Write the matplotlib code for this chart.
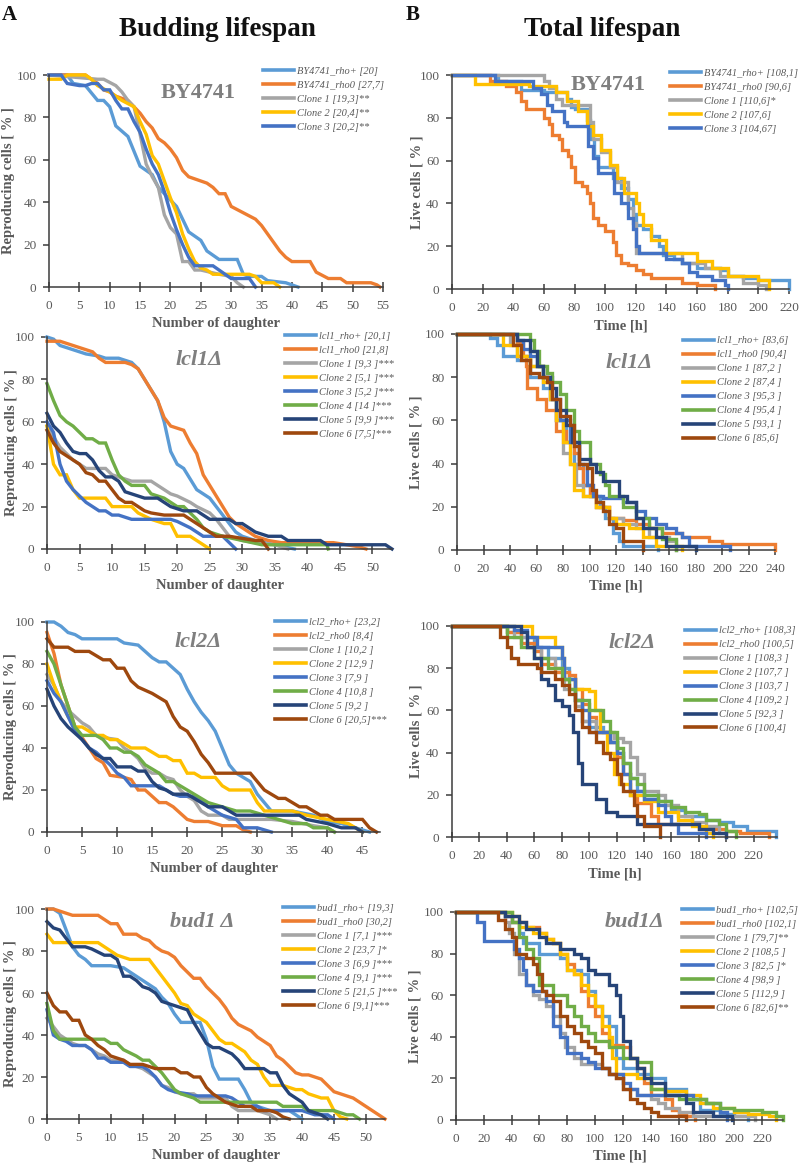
import matplotlib
matplotlib.use('Agg')
import matplotlib.pyplot as plt

W, H = 800, 1165
plt.rcParams['font.family'] = ['Liberation Serif', 'DejaVu Serif']

COLORS = ['#5B9BD5', '#ED7D31', '#A5A5A5', '#FFC000', '#4472C4', '#70AD47', '#264478', '#9E480E']

# ---------------- A1: BY4741 budding lifespan ----------------
a1_labels = ['BY4741_rho+ [20]', 'BY4741_rho0 [27,7]', 'Clone 1 [19,3]**', 'Clone 2 [20,4]**', 'Clone 3 [20,2]**']
a1_rho_plus = [(0,100),(3,100),(4,96),(6,95),(8,88),(9,88),(10,85),(11,76),(13,71),(14,64),(15,57),(17,53),(18,47),(20,41),(21,38),(22,32),(23,26),(25,22),(26,17),(28,13),(31,13),(32,6),(33,5),(35,5),(36,3),(39,2),(40,1),(41,0)]
a1_rho0 = [(0,100),(6,100),(7,98),(8,96),(9,93),(10,92),(11,90),(13,88),(14,85),(15,82),(16,78),(17,75),(18,70),(19,68),(20,65),(21,61),(22,55),(23,52),(25,50),(26,49),(27,47),(28,44),(29,44),(30,38),(32,35),(34,32),(35,29),(36,25),(37,21),(38,17),(39,14),(40,12),(43,12),(44,7),(46,4),(48,4),(49,2),(53,2),(54,1),(54.5,0)]
a1_c1 = [(0,100),(8,98),(9,98),(11,95),(12,92),(13,88),(14,85),(15,72),(16,58),(17,52),(18,47),(19,34),(20,28),(21,25),(22,12),(23,12),(24,8),(25,8),(28,6),(30,5),(31,2),(32,0)]
a1_c2 = [(0,98),(2,98),(3,100),(6,100),(7,98),(8,95),(10,92),(12,88),(14,85),(15,78),(16,72),(17,62),(18,58),(19,50),(20,42),(21,35),(22,25),(23,18),(24,12),(25,9),(26,8),(27,6),(33,6),(34,5),(35,2),(37,2),(38,0)]
a1_c3 = [(0,100),(2,100),(3,96),(5,95),(6,95),(7,96),(8,96),(9,93),(10,93),(11,88),(12,84),(13,84),(14,78),(15,73),(16,65),(17,58),(18,53),(19,45),(20,35),(21,27),(22,20),(23,14),(24,10),(27,10),(28,8),(29,6),(30,4),(33,4),(34,0)]

# ---------------- B1: BY4741 total lifespan ----------------
b1_labels = ['BY4741_rho+ [108,1]', 'BY4741_rho0 [90,6]', 'Clone 1 [110,6]*', 'Clone 2 [107,6]', 'Clone 3 [104,67]']
b1_rho_plus = [(0,100),(28,100),(30,97),(45,93),(60,92),(70,92),(75,89),(78,85),(80,84),(88,79),(90,70),(93,62),(95,57),(100,57),(105,52),(110,47),(115,42),(118,35),(120,30),(125,28),(130,25),(135,20),(138,16),(145,14),(150,12),(160,10),(175,9),(180,6),(190,5),(200,4),(215,4),(220,0)]
b1_rho0 = [(0,100),(20,100),(25,97),(35,95),(42,92),(45,88),(48,84),(55,84),(60,80),(63,77),(65,72),(70,70),(72,65),(76,62),(78,57),(80,50),(85,48),(88,45),(90,40),(92,33),(95,30),(100,27),(105,22),(107,16),(110,12),(115,11),(120,9),(125,7),(130,5),(140,5),(150,3),(160,2),(172,0)]
b1_c1 = [(0,100),(57,100),(60,97),(63,94),(68,89),(72,86),(88,86),(90,78),(92,70),(97,64),(103,57),(108,50),(115,38),(118,31),(120,17),(140,17),(150,12),(165,10),(175,6),(190,3),(200,2),(205,0)]
b1_c2 = [(0,100),(10,100),(15,96),(38,96),(50,95),(68,92),(75,88),(82,83),(88,76),(92,72),(97,65),(103,58),(108,52),(112,45),(118,45),(120,40),(122,35),(125,30),(130,23),(138,23),(140,17),(150,17),(160,13),(170,10),(180,6),(195,6),(200,4),(207,0)]
b1_c3 = [(0,100),(25,100),(28,97),(40,97),(53,94),(58,91),(62,86),(65,83),(70,83),(73,78),(75,76),(85,76),(89,67),(92,61),(95,54),(103,54),(106,45),(110,40),(115,33),(118,28),(120,20),(122,17),(135,17),(140,14),(150,12),(155,8),(160,6),(170,4),(178,2),(180,0)]

# ---------------- A2: lcl1 budding lifespan ----------------
a2_labels = ['lcl1_rho+ [20,1]', 'lcl1_rho0 [21,8]', 'Clone 1 [9,3 ]***', 'Clone 2 [5,1 ]***', 'Clone 3 [5,2 ]***', 'Clone 4 [14 ]***', 'Clone 5 [9,9 ]***', 'Clone 6 [7,5]***']
a2_rho_plus = [(0,100),(1,99),(2,96),(3,95),(5,93),(6,92),(8,91),(9,90),(11,90),(12,89),(13,88),(14,85),(15,80),(16,75),(17,70),(18,60),(19,46),(20,40),(21,38),(22,33),(23,28),(25,24),(26,20),(27,16),(28,12),(29,8),(30,6),(32,4),(35,2),(38,0)]
a2_rho0 = [(0,98),(2,98),(3,97),(5,95),(7,93),(8,90),(9,88),(12,88),(13,87),(14,85),(15,80),(16,75),(17,70),(18,62),(19,58),(20,57),(21,56),(22,50),(23,45),(24,35),(25,30),(26,25),(27,20),(28,15),(29,12),(30,10),(32,6),(34,4),(36,3),(44,3),(46,2),(48,1),(49,0)]
a2_c1 = [(0,58),(2,48),(4,42),(5,40),(6,38),(9,38),(10,35),(12,33),(13,32),(16,32),(17,30),(18,28),(19,26),(20,25),(22,22),(23,20),(25,17),(26,14),(27,10),(28,6),(30,4),(32,3),(35,2),(37,0)]
a2_c2 = [(0,58),(1,40),(2,35),(3,35),(4,28),(5,24),(9,24),(10,20),(13,20),(14,17),(16,14),(18,12),(19,12),(20,6),(22,6),(23,4),(24,2),(25,0)]
a2_c3 = [(0,60),(1,55),(2,40),(3,32),(4,28),(5,25),(6,22),(7,20),(8,18),(9,18),(10,16),(11,16),(13,14),(19,14),(20,13),(22,10),(23,8),(24,6),(27,6),(28,3),(29,0)]
a2_c4 = [(0,78),(1,70),(2,63),(3,60),(4,58),(5,55),(6,52),(7,52),(8,50),(9,50),(10,42),(11,35),(12,32),(13,30),(15,30),(16,26),(18,24),(19,22),(20,20),(21,20),(23,14),(24,10),(25,8),(27,6),(30,4),(33,2),(43,2),(43.2,0)]
a2_c5 = [(0,64),(1,58),(2,55),(3,50),(4,46),(5,45),(6,45),(7,42),(8,37),(9,34),(10,34),(11,32),(12,27),(13,26),(15,24),(17,24),(18,22),(19,20),(21,18),(23,18),(24,16),(25,14),(28,14),(29,12),(30,12),(31,10),(32,8),(34,6),(36,6),(37,4),(42,4),(43,2),(52,2),(53,0)]
a2_c6 = [(0,56),(1,50),(2,46),(3,44),(4,42),(5,40),(6,36),(7,35),(8,32),(9,32),(10,28),(11,24),(12,22),(13,22),(14,20),(15,18),(16,17),(18,16),(21,16),(22,14),(23,12),(24,10),(25,8),(26,6),(28,6),(30,5),(32,4),(33,4),(34,0)]

# ---------------- B2: lcl1 total lifespan ----------------
b2_labels = ['lcl1_rho+ [83,6]', 'lcl1_rho0 [90,4]', 'Clone 1 [87,2 ]', 'Clone 2 [87,4 ]', 'Clone 3 [95,3 ]', 'Clone 4 [95,4 ]', 'Clone 5 [93,1 ]', 'Clone 6 [85,6]']
b2_rho_plus = [(0,100),(20,100),(25,98),(30,95),(35,90),(45,88),(55,80),(65,75),(70,70),(75,60),(82,50),(88,40),(95,30),(100,25),(108,20),(112,15),(118,8),(122,4),(125,2),(150,2),(152,0)]
b2_rho0 = [(0,100),(40,100),(45,96),(50,90),(52,85),(53,75),(57,75),(60,70),(67,65),(75,55),(82,50),(88,45),(92,38),(95,30),(100,25),(105,20),(115,15),(125,14),(135,12),(145,10),(155,8),(170,6),(185,6),(190,4),(200,3),(238,3),(240,0)]
b2_c1 = [(0,100),(30,100),(40,95),(45,90),(55,85),(65,80),(70,70),(75,60),(80,45),(85,40),(90,30),(95,25),(105,20),(115,15),(125,12),(135,10),(145,6),(160,4),(165,0)]
b2_c2 = [(0,100),(30,100),(35,95),(45,90),(55,85),(65,78),(70,70),(75,60),(80,50),(85,40),(88,28),(95,25),(105,20),(115,15),(120,12),(130,10),(140,6),(150,2),(170,0)]
b2_c3 = [(0,100),(40,100),(45,97),(50,93),(55,90),(60,85),(65,80),(72,70),(78,60),(85,50),(92,40),(98,30),(103,25),(110,24),(125,22),(135,18),(142,15),(150,12),(158,10),(165,8),(170,6),(175,2),(205,2),(206,0)]
b2_c4 = [(0,100),(52,100),(55,97),(58,92),(62,85),(68,82),(72,78),(78,72),(82,65),(88,55),(92,50),(100,40),(108,35),(112,30),(115,25),(125,20),(135,15),(145,10),(155,5),(165,0)]
b2_c5 = [(0,100),(40,100),(45,97),(55,92),(60,85),(65,80),(70,75),(75,65),(82,58),(87,50),(92,42),(100,40),(105,36),(110,32),(118,32),(122,25),(128,22),(135,15),(140,10),(150,6),(158,2),(178,2),(180,0)]
b2_c6 = [(0,100),(38,100),(42,95),(48,88),(55,82),(62,80),(68,78),(72,70),(78,62),(85,58),(88,48),(92,40),(98,38),(102,28),(105,22),(110,18),(115,12),(120,10),(125,4),(138,4),(140,0)]

# ---------------- A3: lcl2 budding lifespan ----------------
a3_labels = ['lcl2_rho+ [23,2]', 'lcl2_rho0 [8,4]', 'Clone 1 [10,2 ]', 'Clone 2 [12,9 ]', 'Clone 3 [7,9 ]', 'Clone 4 [10,8 ]', 'Clone 5 [9,2 ]', 'Clone 6 [20,5]***']
a3_rho_plus = [(0,100),(1,100),(2,98),(3,95),(4,94),(5,92),(10,92),(11,90),(13,89),(14,86),(15,83),(16,81),(17,81),(18,78),(19,75),(20,68),(21,62),(22,57),(23,53),(24,48),(25,40),(26,32),(27,28),(29,24),(30,18),(31,14),(32,10),(35,10),(38,8),(40,5),(42,4),(44,2),(46,0)]
a3_rho0 = [(0,95),(1,85),(2,70),(3,60),(4,50),(5,45),(6,40),(7,35),(8,33),(9,27),(11,26),(12,25),(13,20),(14,20),(15,17),(16,14),(17,14),(18,12),(19,9),(20,6),(21,5),(23,5),(24,4),(25,3),(27,3),(28,1),(29,0)]
a3_c1 = [(0,75),(1,70),(2,62),(3,58),(4,55),(5,52),(6,50),(7,46),(8,45),(10,44),(11,40),(12,38),(13,35),(14,30),(15,28),(16,28),(17,26),(18,25),(19,20),(20,17),(21,15),(22,10),(23,8),(25,8),(26,6),(32,6),(35,5),(38,3),(40,2),(41,0)]
a3_c2 = [(0,80),(1,70),(2,62),(3,55),(4,50),(5,50),(6,48),(7,46),(8,46),(9,44),(10,44),(11,42),(12,40),(14,40),(15,38),(16,36),(17,36),(18,34),(19,34),(20,28),(21,28),(22,26),(24,26),(25,22),(26,20),(29,20),(30,14),(31,10),(35,10),(37,8),(40,6),(43,4),(44,2),(45,0)]
a3_c3 = [(0,72),(1,66),(2,62),(3,55),(4,48),(5,44),(6,40),(7,38),(8,35),(9,32),(10,28),(11,26),(12,22),(16,22),(17,20),(18,18),(19,17),(21,17),(22,15),(23,12),(24,10),(25,8),(27,6),(28,2),(30,2),(32,0)]
a3_c4 = [(0,86),(1,80),(2,70),(3,60),(4,50),(5,46),(7,46),(8,44),(9,40),(10,40),(11,38),(12,38),(13,36),(14,32),(15,30),(16,28),(17,24),(18,24),(19,22),(20,20),(21,18),(22,16),(23,14),(24,13),(25,12),(27,10),(29,10),(31,8),(33,6),(35,4),(37,4),(38,2),(40,2),(41,0)]
a3_c5 = [(0,68),(1,60),(2,54),(3,50),(4,47),(5,44),(6,40),(7,37),(8,35),(9,35),(10,31),(12,31),(13,29),(14,29),(15,24),(16,21),(17,20),(18,18),(20,18),(21,16),(22,14),(23,12),(25,12),(26,10),(27,8),(36,8),(37,6),(40,4),(42,2),(44,2),(45,0)]
a3_c6 = [(0,92),(1,88),(3,88),(4,86),(6,86),(7,84),(8,82),(9,82),(10,78),(11,78),(12,72),(13,69),(15,66),(17,62),(18,55),(19,50),(20,48),(21,43),(22,37),(23,33),(24,28),(29,28),(30,24),(31,20),(32,18),(33,16),(34,16),(35,14),(36,12),(37,12),(38,10),(39,8),(40,8),(41,6),(45,6),(46,2),(47,0)]

# ---------------- B3: lcl2 total lifespan ----------------
b3_labels = ['lcl2_rho+ [108,3]', 'lcl2_rho0 [100,5]', 'Clone 1 [108,3 ]', 'Clone 2 [107,7 ]', 'Clone 3 [103,7 ]', 'Clone 4 [109,2 ]', 'Clone 5 [92,3 ]', 'Clone 6 [100,4]']
b3_rho_plus = [(0,100),(30,100),(40,97),(50,95),(60,90),(70,85),(80,80),(85,75),(90,65),(95,55),(100,52),(110,50),(115,45),(120,40),(125,35),(130,28),(135,22),(140,20),(150,17),(160,13),(170,10),(185,8),(195,7),(205,5),(215,3),(232,3),(236,0)]
b3_rho0 = [(0,100),(30,100),(40,97),(50,92),(60,88),(65,82),(75,78),(85,77),(90,70),(95,63),(100,57),(105,50),(110,50),(115,45),(120,38),(125,30),(130,20),(135,16),(145,10),(150,6),(160,6),(180,4),(200,3),(210,2),(230,2),(231,0)]
b3_c1 = [(0,100),(35,100),(45,95),(55,90),(65,85),(75,80),(82,70),(90,62),(95,55),(105,50),(118,47),(125,45),(130,38),(135,30),(140,22),(150,20),(155,15),(165,10),(175,7),(185,5),(195,2),(200,0)]
b3_c2 = [(0,100),(55,100),(58,95),(75,90),(80,85),(82,75),(90,70),(100,69),(104,60),(108,50),(113,40),(118,30),(122,25),(130,20),(140,17),(150,12),(165,8),(175,5),(185,2),(190,0)]
b3_c3 = [(0,100),(35,100),(45,98),(55,95),(62,90),(75,90),(80,85),(82,75),(90,65),(95,60),(100,50),(110,50),(115,45),(120,40),(125,30),(130,22),(140,18),(150,15),(155,10),(160,6),(165,2),(180,2),(185,0)]
b3_c4 = [(0,100),(35,100),(40,95),(50,90),(60,85),(70,80),(80,75),(85,70),(90,65),(100,60),(110,55),(115,50),(120,42),(125,35),(130,28),(135,25),(140,20),(150,17),(160,14),(170,12),(180,11),(185,8),(195,6),(200,3),(207,0)]
b3_c5 = [(0,100),(45,100),(50,97),(55,90),(60,85),(65,75),(70,72),(75,65),(80,62),(85,58),(88,50),(92,35),(95,25),(103,25),(105,18),(110,18),(112,12),(120,10),(130,10),(135,6),(170,6),(180,4),(190,2),(200,0)]
b3_c6 = [(0,100),(30,100),(35,95),(40,90),(43,85),(48,82),(60,82),(62,80),(65,78),(75,75),(80,72),(85,68),(90,60),(95,52),(100,50),(105,45),(110,40),(115,37),(120,30),(123,25),(125,22),(133,15),(135,10),(140,5),(148,5),(152,0)]

# ---------------- A4: bud1 budding lifespan ----------------
a4_labels = ['bud1_rho+ [19,3]', 'bud1_rho0 [30,2]', 'Clone 1 [7,1 ]***', 'Clone 2 [23,7 ]*', 'Clone 3 [6,9 ]***', 'Clone 4 [9,1 ]***', 'Clone 5 [21,5 ]***', 'Clone 6 [9,1]***']
a4_rho_plus = [(0,100),(1,100),(2,98),(3,90),(4,82),(5,78),(6,76),(7,73),(10,73),(12,72),(14,68),(15,66),(17,62),(18,58),(19,55),(20,50),(21,46),(24,46),(25,38),(26,25),(27,19),(30,19),(31,14),(32,8),(33,6),(35,4),(38,4),(39,2),(40,0)]
a4_rho0 = [(0,100),(1,100),(2,99),(3,98),(4,97),(8,97),(9,95),(10,93),(11,93),(12,88),(14,88),(15,86),(16,85),(17,82),(18,80),(19,79),(20,77),(21,73),(22,70),(23,67),(24,67),(25,63),(26,60),(27,57),(28,53),(29,48),(30,45),(32,42),(33,39),(35,35),(36,30),(37,28),(38,25),(39,22),(40,21),(41,21),(42,20),(43,19),(44,16),(45,13),(46,12),(47,11),(48,10),(49,8),(51,4),(53,0)]
a4_c1 = [(0,48),(1,44),(2,40),(3,38),(4,36),(5,35),(6,35),(7,33),(8,31),(9,30),(10,28),(12,28),(13,26),(14,25),(15,24),(16,22),(17,20),(18,16),(19,15),(20,13),(21,12),(23,12),(24,10),(28,10),(29,6),(30,4),(33,4),(35,2),(36,0)]
a4_c2 = [(0,88),(1,84),(8,84),(9,82),(10,80),(11,78),(13,76),(16,76),(17,72),(18,68),(19,64),(20,60),(21,55),(22,54),(23,50),(24,48),(25,46),(26,42),(27,38),(28,36),(29,36),(31,32),(32,28),(33,26),(34,20),(35,16),(37,16),(39,14),(40,14),(41,12),(43,10),(44,10),(45,4),(46,1),(47,0)]
a4_c3 = [(0,52),(1,40),(2,38),(3,37),(4,35),(6,35),(7,33),(8,29),(9,29),(10,27),(12,27),(13,25),(15,25),(16,23),(17,20),(18,16),(19,14),(20,13),(22,12),(23,11),(28,11),(29,10),(30,8),(31,6),(33,6),(34,4),(40,4),(42,2),(44,2),(45,0)]
a4_c4 = [(0,55),(1,42),(2,38),(9,38),(10,36),(11,36),(12,33),(14,30),(15,28),(16,28),(17,25),(18,22),(19,18),(20,14),(21,12),(23,10),(24,8),(36,8),(37,6),(40,6),(41,4),(45,4),(47,2),(48,2),(49,0)]
a4_c5 = [(0,94),(1,91),(2,90),(3,86),(4,82),(6,82),(7,81),(9,78),(10,78),(11,76),(12,68),(13,68),(14,66),(15,63),(16,62),(17,60),(18,56),(20,54),(22,52),(23,46),(25,36),(26,34),(27,34),(29,31),(30,28),(31,24),(34,24),(35,22),(36,22),(37,16),(38,12),(40,8),(41,4),(43,2),(44,0)]
a4_c6 = [(0,60),(1,54),(2,51),(3,51),(4,47),(5,47),(6,40),(7,38),(8,35),(9,33),(10,30),(11,29),(12,28),(13,26),(15,26),(16,25),(17,24),(20,24),(21,22),(22,22),(23,20),(24,20),(25,15),(26,12),(27,10),(28,8),(29,7),(30,6),(32,6),(33,4),(35,4),(36,3),(37,1),(38,0)]

# ---------------- B4: bud1 total lifespan ----------------
b4_labels = ['bud1_rho+ [102,5]', 'bud1_rho0 [102,1]', 'Clone 1 [79,7]**', 'Clone 2 [108,5 ]', 'Clone 3 [82,5 ]*', 'Clone 4 [98,9 ]', 'Clone 5 [112,9 ]', 'Clone 6 [82,6]**']
b4_rho_plus = [(0,100),(30,100),(35,98),(40,95),(45,90),(48,85),(55,85),(60,80),(70,80),(75,78),(80,72),(90,70),(95,62),(100,55),(105,50),(110,45),(115,30),(120,25),(130,22),(140,20),(150,15),(160,15),(165,10),(170,10),(175,5),(190,3),(200,2),(210,0)]
b4_rho0 = [(0,100),(30,100),(35,98),(40,95),(50,93),(55,93),(60,90),(65,87),(70,85),(75,80),(80,75),(85,70),(90,62),(95,55),(100,50),(105,42),(110,36),(120,35),(125,30),(130,25),(135,18),(140,12),(150,10),(155,5),(160,3),(165,2),(172,0)]
b4_c1 = [(0,100),(30,100),(35,95),(38,90),(42,80),(45,70),(50,65),(55,60),(60,58),(65,55),(70,50),(75,42),(78,35),(85,30),(90,27),(100,27),(105,25),(110,22),(115,20),(120,15),(130,12),(140,10),(145,8),(150,6),(160,4),(170,2),(210,2),(215,0)]
b4_c2 = [(0,100),(35,100),(40,98),(45,93),(55,90),(65,87),(70,85),(75,80),(80,72),(85,70),(90,65),(95,60),(100,55),(105,45),(110,40),(112,30),(115,22),(125,22),(130,20),(140,15),(150,14),(165,12),(175,8),(185,6),(200,4),(210,3),(225,2),(230,0)]
b4_c3 = [(0,100),(12,100),(15,95),(20,86),(38,86),(42,82),(45,78),(48,72),(50,65),(55,62),(60,62),(65,57),(70,45),(75,40),(80,32),(90,30),(95,28),(100,25),(110,22),(120,18),(125,15),(130,12),(160,12),(170,10),(180,8),(190,4),(195,0)]
b4_c4 = [(0,100),(35,100),(40,95),(45,88),(50,82),(55,78),(60,65),(70,60),(80,55),(85,50),(90,45),(95,42),(100,38),(110,35),(120,30),(130,28),(140,15),(150,12),(160,10),(170,10),(180,8),(190,6),(200,5),(220,4),(230,2),(235,0)]
b4_c5 = [(0,100),(30,100),(35,98),(45,95),(50,92),(60,88),(65,85),(75,82),(85,80),(90,78),(95,72),(100,70),(110,65),(115,60),(118,50),(120,38),(125,30),(130,25),(135,20),(140,18),(150,12),(158,12),(165,8),(170,4),(185,2),(195,2),(198,0)]
b4_c6 = [(0,100),(25,100),(30,96),(35,92),(40,88),(43,80),(50,78),(55,75),(58,70),(62,62),(65,60),(70,57),(75,50),(80,45),(85,42),(90,38),(95,35),(100,32),(105,25),(110,22),(115,20),(120,15),(125,10),(130,8),(135,6),(140,4),(145,2),(160,2),(165,0)]

# ---------------- panel definitions (layout in pixels) ----------------
panels = [
    # series, labels, title, xmax, tick step, kind, (l, r, t, b), legend anchor, ylabel x-frac, title pos, title style
    ([a1_rho_plus, a1_rho0, a1_c1, a1_c2, a1_c3], a1_labels, 'BY4741', 55, 5, 'A', (49, 383, 75, 287), (0.64, 1.04), -0.102, (198, 93), 'normal'),
    ([b1_rho_plus, b1_rho0, b1_c1, b1_c2, b1_c3], b1_labels, 'BY4741', 220, 20, 'B', (452, 789, 75, 289), (0.647, 1.03), -0.086, (608, 85), 'normal'),
    ([a2_rho_plus, a2_rho0, a2_c1, a2_c2, a2_c3, a2_c4, a2_c5, a2_c6], a2_labels, 'lcl1Δ', 53, 5, 'A', (47, 392, 337, 549), (0.69, 1.025), -0.084, (199, 360), 'italic'),
    ([b2_rho_plus, b2_rho0, b2_c1, b2_c2, b2_c3, b2_c4, b2_c5, b2_c6], b2_labels, 'lcl1Δ', 240, 20, 'B', (457, 775, 334, 550), (0.71, 0.99), -0.107, (629, 363), 'italic'),
    ([a3_rho_plus, a3_rho0, a3_c1, a3_c2, a3_c3, a3_c4, a3_c5, a3_c6], a3_labels, 'lcl2Δ', 47.5, 5, 'A', (47, 380, 622, 832), (0.685, 1.02), -0.09, (198, 642), 'italic'),
    ([b3_rho_plus, b3_rho0, b3_c1, b3_c2, b3_c3, b3_c4, b3_c5, b3_c6], b3_labels, 'lcl2Δ', 237, 20, 'B', (452, 777, 626, 837), (0.717, 1.0), -0.092, (632, 643), 'italic'),
    ([a4_rho_plus, a4_rho0, a4_c1, a4_c2, a4_c3, a4_c4, a4_c5, a4_c6], a4_labels, 'bud1 Δ', 53, 5, 'A', (47, 385, 909, 1119), (0.698, 1.025), -0.089, (202, 922), 'italic'),
    ([b4_rho_plus, b4_rho0, b4_c1, b4_c2, b4_c3, b4_c4, b4_c5, b4_c6], b4_labels, 'bud1Δ', 235, 20, 'B', (456, 783, 912, 1120), (0.69, 1.03), -0.104, (635, 922), 'italic'),
]

fig = plt.figure(figsize=(W / 100, H / 100), dpi=100)
GRAY_T = '#595959'
GRAY_TITLE = '#7f7f7f'
AXC = '#3c3c3c'

for series, labels, title, xmax, step, kind, (l, r, t, b), leg_anchor, ylx, tpos, tstyle in panels:
    ax = fig.add_axes([l / W, 1 - b / H, (r - l) / W, (b - t) / H])
    for i, (pts, lab) in enumerate(zip(series, labels)):
        xs = [p[0] for p in pts]
        ys = [p[1] for p in pts]
        ds = 'steps-post' if kind == 'B' else 'default'
        ax.plot(xs, ys, color=COLORS[i], lw=2.4, drawstyle=ds, label=lab,
                clip_on=False, solid_joinstyle='miter')
    ax.set_xlim(0, xmax)
    ax.set_ylim(0, 100)
    ticks = list(range(0, int(xmax) + 1, step))
    ax.set_xticks(ticks)
    ax.set_yticks([0, 20, 40, 60, 80, 100])
    for s in ['top', 'right']:
        ax.spines[s].set_visible(False)
    for s in ['left', 'bottom']:
        ax.spines[s].set_color(AXC)
        ax.spines[s].set_linewidth(1.1)
    ax.tick_params(axis='x', direction='inout', length=7, width=1.1, color=AXC,
                   labelsize=9.5, labelcolor=GRAY_T, pad=6)
    ax.tick_params(axis='y', direction='out', length=4, width=1.1, color=AXC,
                   labelsize=9.5, labelcolor=GRAY_T, pad=5)
    if kind == 'A':
        ax.set_ylabel('Reproducing cells [ % ]', fontsize=10.5, fontweight='bold', color=GRAY_T)
        ax.set_xlabel('Number of daughter', fontsize=10.5, fontweight='bold', color=GRAY_T)
    else:
        ax.set_ylabel('Live cells [ % ]', fontsize=10.5, fontweight='bold', color=GRAY_T)
        ax.set_xlabel('Time [h]', fontsize=10.5, fontweight='bold', color=GRAY_T)
    ax.yaxis.set_label_coords(ylx, 0.5)
    ax.xaxis.set_label_coords(0.5, -30.0 / (b - t))
    leg = ax.legend(loc='upper left', bbox_to_anchor=leg_anchor, frameon=False,
                    borderaxespad=0, borderpad=0, handlelength=3.0, handletextpad=0.3,
                    labelspacing=0.45, prop={'family': 'Liberation Serif', 'style': 'italic', 'size': 7.5})
    for txt in leg.get_texts():
        txt.set_color(GRAY_T)
    for ln in leg.get_lines():
        ln.set_linewidth(2.6)
    fig.text(tpos[0] / W, 1 - tpos[1] / H, title, ha='center', va='center',
             fontsize=16, fontweight='bold', style=tstyle, color=GRAY_TITLE)

fig.text(9 / W, 1 - 15 / H, 'A', ha='center', va='center', fontsize=15, fontweight='bold', color='#111111')
fig.text(217 / W, 1 - 29 / H, 'Budding lifespan', ha='center', va='center', fontsize=19.5, fontweight='bold', color='#111111')
fig.text(413 / W, 1 - 15 / H, 'B', ha='center', va='center', fontsize=15, fontweight='bold', color='#111111')
fig.text(602 / W, 1 - 29 / H, 'Total lifespan', ha='center', va='center', fontsize=19.5, fontweight='bold', color='#111111')

fig.savefig('out.png', dpi=100)
